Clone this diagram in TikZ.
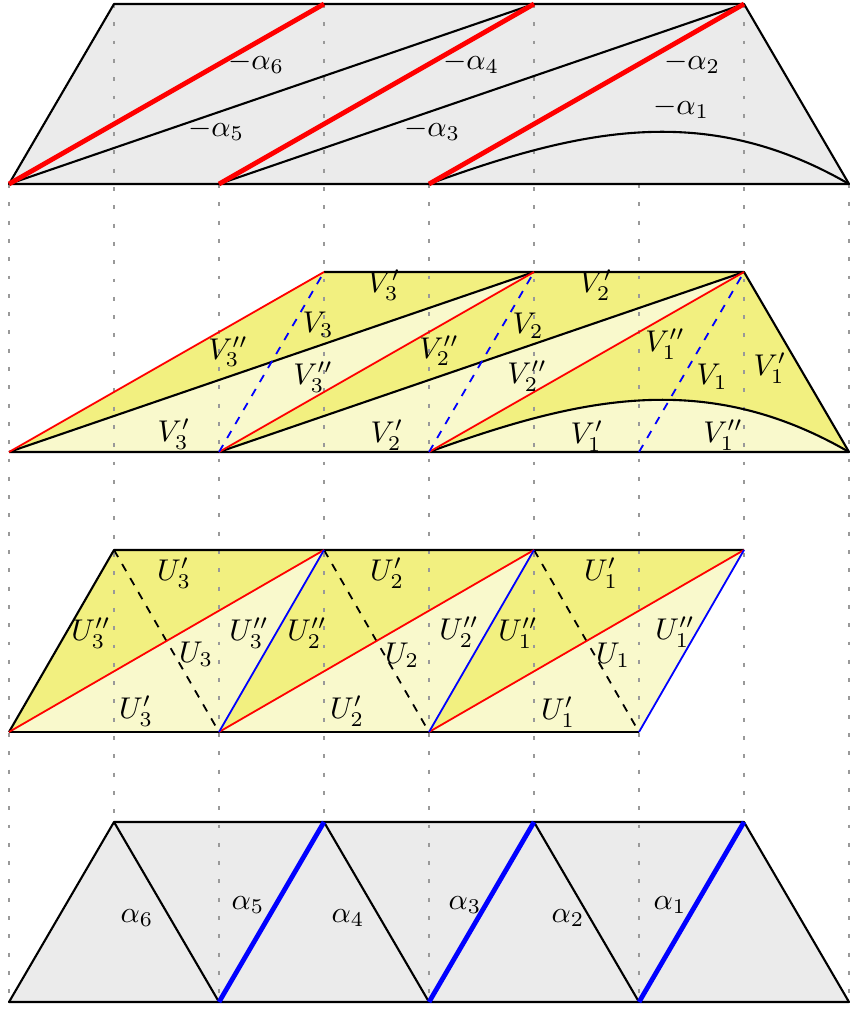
\documentclass[tikz,border=0pt]{standalone}
\usepackage{amsmath}
\usetikzlibrary{calc}
\definecolor{ydark}{HTML}{F2F080}
\definecolor{ylight}{HTML}{F9F9CC}
\definecolor{greyfill}{HTML}{EBEBEB}
\definecolor{gridgrey}{HTML}{999999}
\tikzset{
  edge/.style={black, line width=0.7pt, line join=round},
  redthick/.style={red, line width=1.6pt},
  redthin/.style={red, line width=0.6pt},
  bluethick/.style={blue, line width=1.6pt},
  bluethin/.style={blue, line width=0.6pt},
  bluedash/.style={blue, line width=0.6pt, dash pattern=on 2.7pt off 2.7pt},
  blackdash/.style={black, line width=0.6pt, dash pattern=on 2.7pt off 2.7pt},
  gridline/.style={gridgrey, line width=0.75pt, dash pattern=on 1.3pt off 4.8pt},
  lab/.style={inner sep=0pt}
}
\begin{document}
\begin{tikzpicture}[x=0.3333pt, y=-0.3333pt]
\useasboundingbox (0,0) rectangle (850,1010);

% ---------- coordinates ----------
\foreach \k in {0,...,8} {
  \pgfmathsetmacro{\xx}{9+105*\k}
  \coordinate (a\k) at (\xx,184);  % row 1 bottom
  \coordinate (t\k) at (\xx,4);    % row 1 top
  \coordinate (b\k) at (\xx,452);  % row 2 bottom
  \coordinate (s\k) at (\xx,272);  % row 2 top
  \coordinate (c\k) at (\xx,732);  % row 3 bottom
  \coordinate (u\k) at (\xx,550);  % row 3 top
  \coordinate (d\k) at (\xx,1002); % row 4 bottom
  \coordinate (e\k) at (\xx,822);  % row 4 top
  \coordinate (gtop\k) at (\xx,4);
  \coordinate (gmid\k) at (\xx,184);
  \coordinate (glow\k) at (\xx,822);
  \coordinate (gbot\k) at (\xx,1002);
}
% control points of the arcs
\coordinate (ap) at ($(a4)+(154,-56)$);
\coordinate (aq) at ($(a8)+(-142,-82)$);
\coordinate (bp) at ($(b4)+(154,-56)$);
\coordinate (bq) at ($(b8)+(-142,-82)$);

% ---------- fills ----------
% row 1
\fill[greyfill] (a0) -- (t1) -- (t7) -- (a8) -- cycle;
% row 2
\fill[ydark] (b0) -- (s3) -- (s5) -- cycle;
\fill[ylight] (b0) -- (b2) -- (s5) -- cycle;
\fill[ydark] (b2) -- (s5) -- (s7) -- cycle;
\fill[ylight] (b2) -- (b4) -- (s7) -- cycle;
\fill[ydark] (b4) -- (s7) -- (b8) .. controls (bq) and (bp) .. (b4) -- cycle;
\fill[ylight] (b4) .. controls (bp) and (bq) .. (b8) -- cycle;
% row 3
\fill[ydark] (c0) -- (u1) -- (u3) -- cycle;
\fill[ylight] (c0) -- (u3) -- (c2) -- cycle;
\fill[ydark] (c2) -- (u3) -- (u5) -- cycle;
\fill[ylight] (c2) -- (u5) -- (c4) -- cycle;
\fill[ydark] (c4) -- (u5) -- (u7) -- cycle;
\fill[ylight] (c4) -- (u7) -- (c6) -- cycle;
% row 4
\fill[greyfill] (d0) -- (e1) -- (e7) -- (d8) -- cycle;

% ---------- dotted verticals ----------
\foreach \k in {1,3,5,7} { \draw[gridline] (gtop\k) -- (glow\k); }
\foreach \k in {0,2,4,6,8} { \draw[gridline] (gmid\k) -- (gbot\k); }

% ---------- row 1 ----------
\draw[edge] (a0) -- (t1) -- (t7) -- (a8) -- cycle;
\draw[edge] (a0) -- (t5);
\draw[edge] (a2) -- (t7);
\draw[edge] (a4) .. controls (ap) and (aq) .. (a8);
\draw[redthick] (a0) -- (t3);
\draw[redthick] (a2) -- (t5);
\draw[redthick] (a4) -- (t7);
\node[lab] (m6) at (256,63) {$-\alpha_6$};
\node[lab] (m5) at (216,130) {$-\alpha_5$};
\node[lab] (m4) at (471,63) {$-\alpha_4$};
\node[lab] (m3) at (432,130) {$-\alpha_3$};
\node[lab] (m2) at (692,63) {$-\alpha_2$};
\node[lab] (m1) at (681,108) {$-\alpha_1$};

% ---------- row 2 ----------
\draw[edge] (s3) -- (s7) -- (b8) -- (b0);
\draw[edge] (b0) -- (s5);
\draw[edge] (b2) -- (s7);
\draw[edge] (b4) .. controls (bp) and (bq) .. (b8);
\draw[redthin] (b0) -- (s3);
\draw[redthin] (b2) -- (s5);
\draw[redthin] (b4) -- (s7);
\draw[bluedash] (b2) -- (s3);
\draw[bluedash] (b4) -- (s5);
\draw[bluedash] (b6) -- (s7);
\node[lab] (v3a) at (384,285) {$V_3'$};
\node[lab] (v3b) at (318,325) {$V_3$};
\node[lab] (v3c) at (228,352) {$V_3''$};
\node[lab] (v3d) at (313,377) {$V_3''$};
\node[lab] (v3e) at (174,434) {$V_3'$};
\node[lab] (v2a) at (596,285) {$V_2'$};
\node[lab] (v2b) at (528,326) {$V_2$};
\node[lab] (v2c) at (439,351) {$V_2''$};
\node[lab] (v2d) at (527,376) {$V_2''$};
\node[lab] (v2e) at (387,435) {$V_2'$};
\node[lab] (v1a) at (665,344) {$V_1''$};
\node[lab] (v1b) at (712,377) {$V_1$};
\node[lab] (v1c) at (770,368) {$V_1'$};
\node[lab] (v1d) at (587,436) {$V_1'$};
\node[lab] (v1e) at (723,435) {$V_1''$};

% ---------- row 3 ----------
\draw[edge] (c0) -- (u1) -- (u7);
\draw[edge] (c0) -- (c6);
\draw[blackdash] (u1) -- (c2);
\draw[blackdash] (u3) -- (c4);
\draw[blackdash] (u5) -- (c6);
\draw[redthin] (c0) -- (u3);
\draw[redthin] (c2) -- (u5);
\draw[redthin] (c4) -- (u7);
\draw[bluethin] (c2) -- (u3);
\draw[bluethin] (c4) -- (u5);
\draw[bluethin] (c6) -- (u7);
\node[lab] (w3a) at (174,573) {$U_3'$};
\node[lab] (w3b) at (91,633) {$U_3''$};
\node[lab] (w3c) at (196,654) {$U_3$};
\node[lab] (w3d) at (249,633) {$U_3''$};
\node[lab] (w3e) at (136,711) {$U_3'$};
\node[lab] (w2a) at (387,573) {$U_2'$};
\node[lab] (w2b) at (307,633) {$U_2''$};
\node[lab] (w2c) at (402,655) {$U_2$};
\node[lab] (w2d) at (459,632) {$U_2''$};
\node[lab] (w2e) at (347,711) {$U_2'$};
\node[lab] (w1a) at (601,573) {$U_1'$};
\node[lab] (w1b) at (518,633) {$U_1''$};
\node[lab] (w1c) at (613,655) {$U_1$};
\node[lab] (w1d) at (675,632) {$U_1''$};
\node[lab] (w1e) at (558,712) {$U_1'$};

% ---------- row 4 ----------
\draw[edge] (d0) -- (e1) -- (e7) -- (d8) -- cycle;
\draw[edge] (e1) -- (d2);
\draw[edge] (e3) -- (d4);
\draw[edge] (e5) -- (d6);
\draw[bluethick] (d2) -- (e3);
\draw[bluethick] (d4) -- (e5);
\draw[bluethick] (d6) -- (e7);
\node[lab] (p6) at (137,918) {$\alpha_6$};
\node[lab] (p5) at (248,905) {$\alpha_5$};
\node[lab] (p4) at (348,918) {$\alpha_4$};
\node[lab] (p3) at (465,905) {$\alpha_3$};
\node[lab] (p2) at (568,918) {$\alpha_2$};
\node[lab] (p1) at (670,905) {$\alpha_1$};
\end{tikzpicture}
\end{document}
